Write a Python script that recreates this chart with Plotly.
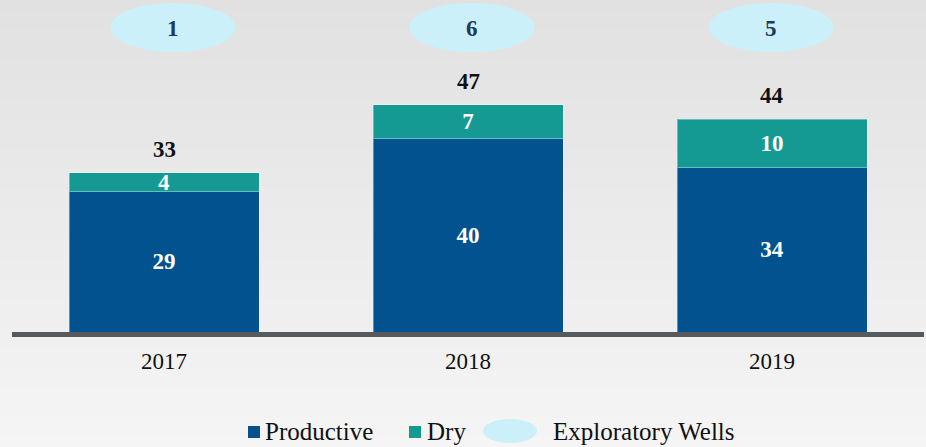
import plotly.graph_objects as go

# ---- data ----
years = ["2017", "2018", "2019"]
productive = [29, 40, 34]
dry = [4, 7, 10]
exploratory = [1, 6, 5]
totals = [p + d for p, d in zip(productive, dry)]

# ---- style ----
FONT = "Liberation Serif"
C_PROD = "#02528f"
C_DRY = "#159a93"
C_ELL = "#cbf0f9"
C_ELL_TXT = "#1f3a60"

W_FIG, H_FIG = 926, 447
ML, MR, MT, MB = 12, 2, 0, 115
PW = W_FIG - ML - MR
PH = H_FIG - MT - MB
CAT_W = PW / 3


def px_x(px):
    return (px - ML) / PW


def px_y(py):
    return (MT + PH - py) / PH


fig = go.Figure()

for vals, name, col in [(productive, "Productive", C_PROD), (dry, "Dry", C_DRY)]:
    fig.add_trace(go.Bar(
        x=years, y=vals, name=name,
        marker=dict(color=col, line=dict(color="rgba(255,255,255,0.35)", width=1)),
        text=vals, textposition="inside", insidetextanchor="middle",
        constraintext="none", textangle=0,
        textfont=dict(family=FONT, size=23, color="white", weight="bold"),
        hoverinfo="skip",
    ))

shapes = []
annotations = []

# background gradient bands
top_c, bot_c = 0xE1, 0xF5
N = 45
for i in range(N):
    y0p = i * H_FIG / N
    y1p = (i + 1) * H_FIG / N + 0.5
    v = round(top_c + (bot_c - top_c) * (i + 0.5) / N)
    col = f"rgb({v},{v},{v})"
    shapes.append(dict(type="rect", xref="paper", yref="paper",
                       x0=px_x(0), x1=px_x(W_FIG), y0=px_y(y1p), y1=px_y(y0p),
                       fillcolor=col, line=dict(width=0), layer="below"))

# totals above bars
for i, t in enumerate(totals):
    annotations.append(dict(x=i, y=t, xref="x", yref="y", text=f"<b>{t}</b>",
                            showarrow=False, yanchor="bottom", yshift=9,
                            font=dict(family=FONT, size=23, color="#111111")))

# exploratory wells ellipses (spacing slightly tighter than the bars)
ELL_SPACING = 299 / CAT_W
ELL_OFFSET = 4 / CAT_W
ELL_HALF_W = 62.5 / CAT_W
for i, e in enumerate(exploratory):
    cx = 1 + (i - 1) * ELL_SPACING + ELL_OFFSET
    shapes.append(dict(type="circle", xref="x", yref="paper",
                       x0=cx - ELL_HALF_W, x1=cx + ELL_HALF_W, y0=px_y(52), y1=px_y(3),
                       fillcolor=C_ELL, line=dict(width=0), layer="above"))
    annotations.append(dict(x=cx, y=px_y(29), xref="x", yref="paper",
                            text=f"<b>{e}</b>", showarrow=False, yanchor="middle",
                            font=dict(family=FONT, size=23, color=C_ELL_TXT)))

# manual legend
LY = 431
LEG_FS = 25
shapes.append(dict(type="rect", xref="paper", yref="paper",
                   x0=px_x(248), x1=px_x(260), y0=px_y(438), y1=px_y(426),
                   fillcolor=C_PROD, line=dict(width=0)))
annotations.append(dict(x=px_x(263), y=px_y(LY), xref="paper", yref="paper",
                        text="Productive", showarrow=False, xanchor="left", yanchor="middle",
                        font=dict(family=FONT, size=LEG_FS, color="#111111")))
shapes.append(dict(type="rect", xref="paper", yref="paper",
                   x0=px_x(409), x1=px_x(421), y0=px_y(438), y1=px_y(426),
                   fillcolor=C_DRY, line=dict(width=0)))
annotations.append(dict(x=px_x(425), y=px_y(LY), xref="paper", yref="paper",
                        text="Dry", showarrow=False, xanchor="left", yanchor="middle",
                        font=dict(family=FONT, size=LEG_FS, color="#111111")))
shapes.append(dict(type="circle", xref="paper", yref="paper",
                   x0=px_x(483), x1=px_x(537), y0=px_y(443), y1=px_y(419),
                   fillcolor=C_ELL, line=dict(width=0)))
annotations.append(dict(x=px_x(551), y=px_y(LY), xref="paper", yref="paper",
                        text="Exploratory Wells", showarrow=False, xanchor="left", yanchor="middle",
                        font=dict(family=FONT, size=LEG_FS, color="#111111")))

fig.update_layout(
    width=W_FIG, height=H_FIG,
    margin=dict(l=ML, r=MR, t=MT, b=MB),
    barmode="stack", bargap=0.375,
    showlegend=False,
    paper_bgcolor="#ebebeb", plot_bgcolor="rgba(0,0,0,0)",
    shapes=shapes, annotations=annotations,
    xaxis=dict(type="category", range=[-0.5, 2.5], showline=True, linecolor="#565a5e",
               linewidth=5, showgrid=False, zeroline=False, ticks="",
               ticklabelstandoff=4,
               tickfont=dict(family=FONT, size=23, color="#111111")),
    yaxis=dict(range=[0, PH / 4.83], visible=False, showgrid=False, zeroline=False),
)

fig.write_html("out.html", config={"displayModeBar": False},
               post_script="document.body.style.margin='0';document.body.style.overflow='hidden';")
